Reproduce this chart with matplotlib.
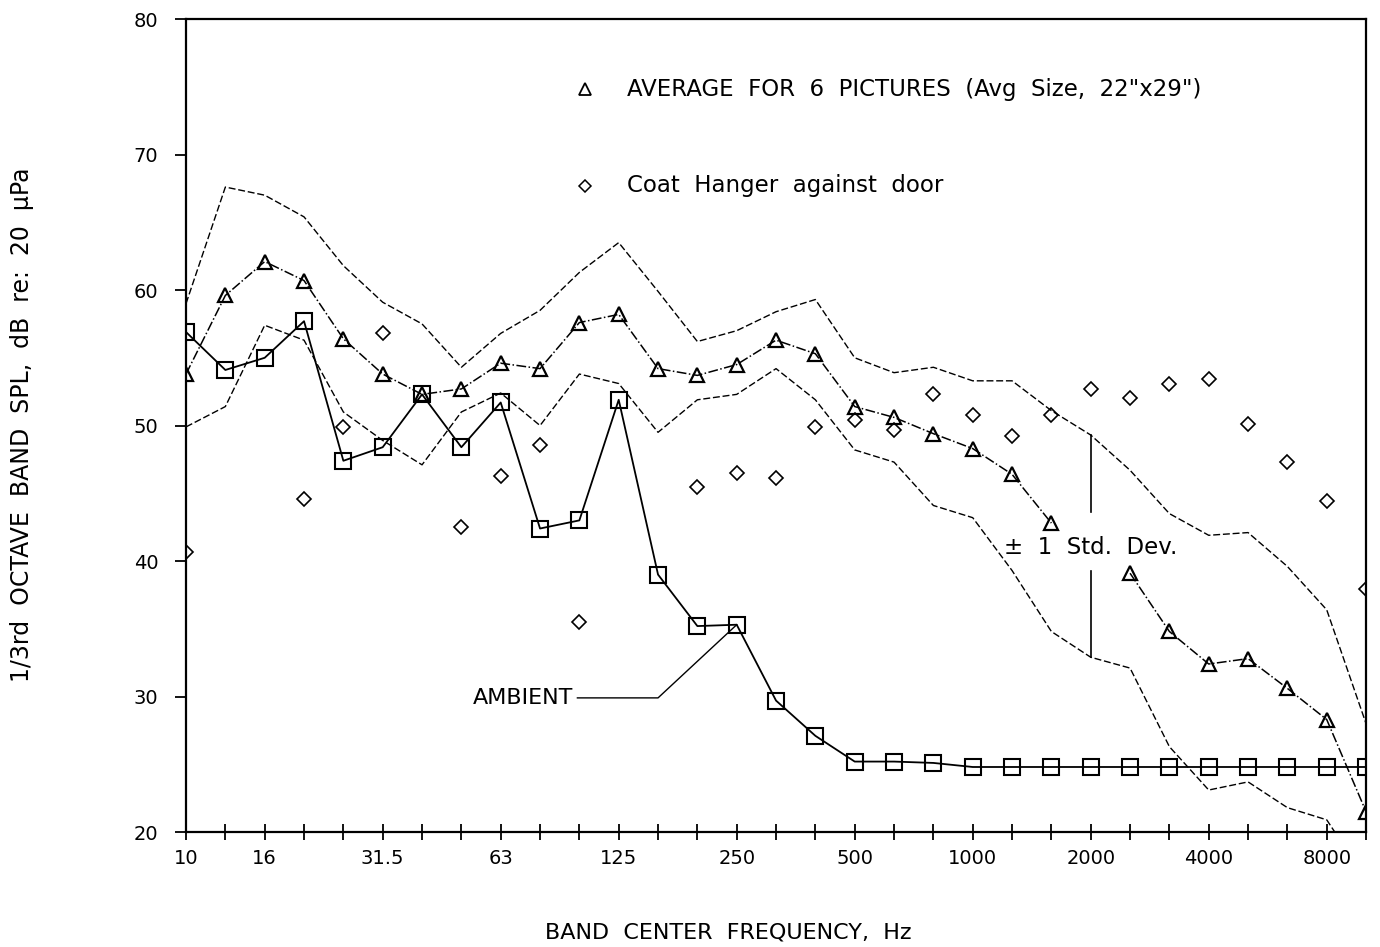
import numpy as np
import matplotlib
matplotlib.use("Agg")
import matplotlib.pyplot as plt

nan = np.nan

# 1/3 octave band centres, 10 Hz .. 10 kHz
bands = ["10", "12.5", "16", "20", "25", "31.5", "40", "50", "63", "80", "100",
         "125", "160", "200", "250", "315", "400", "500", "630", "800", "1000",
         "1250", "1600", "2000", "2500", "3150", "4000", "5000", "6300", "8000",
         "10000"]
labelled = ["10", "16", "31.5", "63", "125", "250", "500", "1000", "2000",
            "4000", "8000"]

avg_pictures = [53.8, 59.6, 62.1, 60.7, 56.4, 53.8, 52.3, 52.7, 54.6, 54.2, 57.6,
                58.2, 54.2, 53.7, 54.5, 56.3, 55.3, 51.4, 50.6, 49.4, 48.3,
                46.4, 42.8, nan, 39.1, 34.8, 32.4, 32.8, 30.6, 28.3, 21.5]
std_upper = [59.0, 67.6, 67.0, 65.4, 61.8, 59.1, 57.5, 54.3, 56.8, 58.5, 61.3,
             63.5, 59.9, 56.2, 57.0, 58.4, 59.3, 55.0, 53.9, 54.3, 53.3,
             53.3, 51.1, 49.3, 46.7, 43.5, 41.9, 42.1, 39.6, 36.4, 28.0]
std_lower = [49.9, 51.4, 57.4, 56.3, 51.0, 48.9, 47.1, 51.0, 52.4, 50.0, 53.8,
             53.1, 49.5, 51.9, 52.3, 54.2, 51.9, 48.2, 47.3, 44.1, 43.2,
             39.3, 34.8, 32.9, 32.1, 26.3, 23.1, 23.7, 21.8, 20.9, 16.5]
coat_hanger = [40.7, nan, nan, 44.6, 49.9, 56.8, nan, 42.5, 46.3, 48.6, 35.5,
               nan, nan, 45.5, 46.5, 46.1, 49.9, 50.4, 49.7, 52.3, 50.8,
               49.2, 50.8, 52.7, 52.0, 53.1, 53.4, 50.1, 47.3, 44.4, 37.9]
ambient = [56.9, 54.1, 55.0, 57.7, 47.4, 48.4, 52.3, 48.4, 51.7, 42.4, 43.0,
           51.9, 39.0, 35.2, 35.3, 29.7, 27.1, 25.2, 25.2, 25.1, 24.8,
           24.8, 24.8, 24.8, 24.8, 24.8, 24.8, 24.8, 24.8, 24.8, 24.8]

plt.rcParams["font.family"] = "DejaVu Sans"
fig = plt.figure(figsize=(13.8, 9.47), dpi=100)
ax = fig.add_axes([0.1348, 0.1214, 0.8551, 0.8585])

x = np.arange(len(bands))

ax.plot(x, std_upper, color="black", lw=1.0, ls=(0, (5, 2)))
ax.plot(x, std_lower, color="black", lw=1.0, ls=(0, (5, 2)))
ax.plot(x, ambient, color="black", lw=1.3, marker="s", ms=11,
        mfc="none", mec="black", mew=1.5)
ax.plot(x, avg_pictures, color="black", lw=1.1, ls="-.", marker="^", ms=10,
        mfc="none", mec="black", mew=1.6)
ax.plot(x, coat_hanger, ls="none", marker="D", ms=7, mfc="none",
        mec="black", mew=1.2)

# legend written as plain text
ax.plot([10.15], [74.8], marker="^", ms=8, mfc="none", mec="black", mew=1.3)
ax.text(11.2, 74.8, "AVERAGE  FOR  6  PICTURES  (Avg  Size,  22\"x29\")",
        fontsize=16.5, va="center")
ax.plot([10.15], [67.7], marker="D", ms=6, mfc="none", mec="black", mew=1.1)
ax.text(11.2, 67.7, "Coat  Hanger  against  door", fontsize=16.5,
        va="center")

# AMBIENT leader
ax.text(9.85, 29.9, "AMBIENT", fontsize=16, ha="right", va="center")
ax.plot([9.95, 12.0, 14.0], [29.9, 29.9, ambient[14]], color="black", lw=1.0)

# std. dev. marker line at 2000 Hz
i2k = bands.index("2000")
ax.plot([i2k, i2k], [std_upper[i2k], 43.6], color="black", lw=1.2)
ax.plot([i2k, i2k], [39.3, std_lower[i2k]], color="black", lw=1.2)
ax.text(i2k, 41.0, "\u00b1  1  Std.  Dev.", fontsize=16.5, ha="center",
        va="center")

ax.set_xlim(0, len(bands) - 1)
ax.set_ylim(20, 80)
ax.set_xticks(x, minor=True)
ax.set_xticks([bands.index(b) for b in labelled])
ax.set_xticklabels(labelled)
ax.set_yticks(np.arange(20, 81, 10))
ax.tick_params(axis="x", which="both", direction="inout", length=12, width=1.3,
               labelsize=14, pad=6)
ax.tick_params(axis="y", direction="out", length=8, width=1.3,
               labelsize=14, pad=12)
for sp in ax.spines.values():
    sp.set_linewidth(1.6)

fig.text(0.5275, 0.0158, "BAND  CENTER  FREQUENCY,  Hz", fontsize=16,
         ha="center", va="center")
fig.text(0.016, 0.551, "1/3rd  OCTAVE  BAND  SPL,  dB  re:  20  \u00b5Pa",
         fontsize=17, rotation=90, ha="center", va="center")

fig.savefig("out.png", dpi=100)
